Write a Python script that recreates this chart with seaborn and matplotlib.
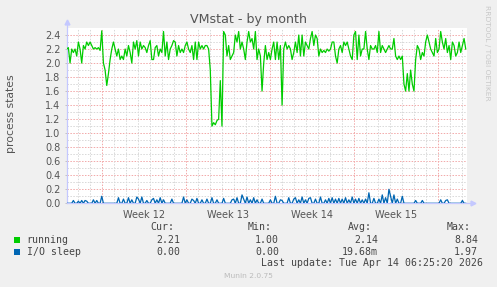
import numpy as np
import pandas as pd
import matplotlib
matplotlib.use("Agg")
import matplotlib.pyplot as plt
from matplotlib.patches import Rectangle
import seaborn as sns

# ---------------- data ----------------
running = [
    2.20, 2.22, 2.00, 2.20, 2.15, 2.20, 2.10, 2.30, 2.20, 2.00, 2.25, 2.20, 2.30, 2.25, 2.30, 2.25,
    2.20, 2.22, 2.20, 2.22, 2.18, 2.46, 2.00, 1.90, 1.68, 1.85, 2.05, 2.20, 2.30, 2.20, 2.10, 2.20,
    2.05, 2.10, 2.05, 2.20, 2.10, 2.25, 2.15, 2.00, 2.30, 2.20, 2.32, 2.10, 2.30, 2.20, 2.25, 2.22,
    2.15, 2.25, 2.32, 2.05, 2.05, 2.22, 2.25, 2.10, 2.20, 2.15, 2.45, 2.10, 2.30, 2.05,
    2.20, 2.25, 2.32, 2.30, 2.10, 2.25, 2.15, 2.20, 2.15, 2.25, 2.30, 2.20, 2.15, 2.25, 2.05, 2.30,
    2.05, 2.30, 2.20, 2.25, 2.20, 2.25, 2.25, 2.20, 1.90, 1.10, 1.15, 1.12, 1.18, 1.20, 1.75, 1.10,
    2.45, 2.40, 2.10, 2.25, 2.05, 2.10, 2.15, 2.40, 2.30, 2.45, 2.20, 2.30, 2.20, 2.05, 2.30, 2.45,
    2.30, 2.35, 2.20, 2.45, 2.05, 2.20, 2.10, 1.60, 2.00, 2.25, 2.05, 2.15,
    2.05, 2.20, 2.30, 2.05, 2.30, 2.05, 2.25, 1.40, 2.20, 2.30, 2.20, 2.25, 2.20, 2.05, 2.15, 2.30,
    2.15, 2.40, 2.10, 2.40, 2.10, 2.30, 2.25, 2.20, 2.35, 2.45, 2.25, 2.40, 2.35, 2.10, 2.20, 2.15,
    2.18, 2.15, 2.20, 2.17, 2.20, 2.30, 2.30, 2.10, 2.00, 2.20, 2.25, 2.15, 2.30, 2.25, 2.30, 2.20,
    2.10, 2.05, 2.40, 2.45, 2.05, 2.40, 2.10, 2.20, 2.20, 2.45, 2.20, 2.05,
    2.25, 2.20, 2.20, 2.25, 2.15, 2.45, 2.15, 2.25, 2.20, 2.15, 2.20, 2.25, 2.20, 2.20, 2.35, 2.10,
    2.05, 2.10, 2.05, 2.10, 1.70, 1.60, 1.85, 1.60, 1.90, 1.70, 1.60, 2.05, 2.25, 2.20, 2.05, 2.15,
    2.10, 2.30, 2.40, 2.30, 2.20, 2.15, 2.10, 2.35, 2.15, 2.20, 2.45, 2.30, 2.20, 2.35, 2.15, 2.25,
    2.05, 2.30, 2.25, 2.10, 2.15, 2.30, 2.15, 2.25, 2.35, 2.20,
]

# I/O sleep: zero except for these samples
io_spike_idx = [4, 7, 9, 11, 12, 16, 18, 21, 31, 34, 37, 39, 42, 43, 45, 48, 51, 52, 54, 56, 58,
                63, 70, 72, 75, 76, 78, 81, 84, 87, 90, 94, 99, 100, 102, 105, 106, 108, 110, 112,
                114, 117, 122, 125, 128, 129, 133, 136, 137, 139, 141, 143, 145, 146, 149, 152,
                155, 157, 159, 161, 163, 165, 167, 169, 171, 173, 175, 177, 179, 181, 184, 187,
                189, 191, 193, 194, 196, 198, 201, 209, 213, 224, 227, 228, 237]
io_spike_val = [0.04, 0.03, 0.04, 0.04, 0.03, 0.05, 0.04, 0.10, 0.08, 0.06, 0.08, 0.05, 0.09, 0.06,
                0.09, 0.04, 0.05, 0.07, 0.05, 0.08, 0.05, 0.06, 0.09, 0.05, 0.06, 0.04, 0.07, 0.05,
                0.06, 0.08, 0.05, 0.07, 0.05, 0.06, 0.08, 0.12, 0.06, 0.09, 0.05, 0.08, 0.05, 0.06,
                0.05, 0.10, 0.05, 0.04, 0.08, 0.06, 0.08, 0.05, 0.09, 0.05, 0.07, 0.08, 0.06, 0.09,
                0.05, 0.07, 0.08, 0.06, 0.07, 0.06, 0.08, 0.05, 0.09, 0.06, 0.07, 0.05, 0.06, 0.15,
                0.07, 0.06, 0.12, 0.08, 0.20, 0.10, 0.12, 0.06, 0.10, 0.04, 0.04, 0.05, 0.04, 0.05,
                0.04]

SPAN_DAYS = 33.25          # time covered by the samples
X_MAX = 33.33              # full x range, days
WEEK_START = 2.97          # first week boundary (days from left edge)
week_labels = ["Week 12", "Week 13", "Week 14", "Week 15"]
y_ticks = [0.0, 0.2, 0.4, 0.6, 0.8, 1.0, 1.2, 1.4, 1.6, 1.8, 2.0, 2.2, 2.4]

legend_names = ["running", "I/O sleep"]
legend_colors = ["#00CC00", "#0066B3"]
cur_vals = ["2.21", "0.00"]
min_vals = ["1.00", "0.00"]
avg_vals = ["2.14", "19.68m"]
max_vals = ["8.84", "1.97"]

n = len(running)
t = np.arange(n) * SPAN_DAYS / (n - 1)
io = np.zeros(n)
io[np.array(io_spike_idx)] = io_spike_val
df = pd.DataFrame({"t": np.concatenate([t, t]),
                   "v": np.concatenate([running, io]),
                   "s": ["running"] * n + ["I/O sleep"] * n})

# ---------------- figure ----------------
W, H = 497, 287
fig = plt.figure(figsize=(W / 100, H / 100), dpi=100, facecolor="#F0F0F0")
ax = fig.add_axes([66.7 / W, 1 - 203.3 / H, 400 / W, 175.3 / H])
ax.set_facecolor("white")

ax.set_xlim(0, X_MAX)
ax.set_ylim(0, 2.5)

grid_gray = "#D8D8D8"
grid_red = "#F2A8A8"
dash = (0, (1.5, 1.5))
# horizontal grid
for k in range(25):
    yv = k * 0.1
    if k % 2 == 0:
        ax.axhline(yv, color=grid_red, lw=0.7, ls=dash, zorder=1)
    else:
        ax.axhline(yv, color=grid_gray, lw=0.7, ls=dash, zorder=1)
# vertical grid: days (gray), weeks (red)
d = WEEK_START - 7
k = 0
day = WEEK_START - 2
while day < X_MAX:
    pass_day = day
    rel = round(pass_day - WEEK_START)
    if rel % 7 == 0:
        ax.axvline(pass_day, color=grid_red, lw=0.7, ls=dash, zorder=1)
    else:
        ax.axvline(pass_day, color=grid_gray, lw=0.7, ls=dash, zorder=1)
    day += 1.0

sns.lineplot(data=df, x="t", y="v", hue="s", hue_order=legend_names,
             palette=legend_colors, linewidth=0.9, legend=False, ax=ax, zorder=3)

for sp in ax.spines.values():
    sp.set_visible(False)

# axis lines with arrows
axis_col = "#C4C8FF"
ax.plot([0, 0], [0, 1.03], transform=ax.transAxes, color=axis_col, lw=0.9, clip_on=False, zorder=2)
ax.plot([0], [1.035], marker="^", ms=3.5, color=axis_col, transform=ax.transAxes, clip_on=False)
ax.plot([0, 1.015], [0, 0], transform=ax.transAxes, color=axis_col, lw=0.9, clip_on=False, zorder=2)
ax.plot([1.017], [0], marker=">", ms=3.5, color=axis_col, transform=ax.transAxes, clip_on=False)

# ticks
week_mid = [WEEK_START + 3.5 + 7 * i for i in range(len(week_labels))]
ax.set_xticks(week_mid)
ax.set_xticklabels(week_labels)
ax.set_yticks(y_ticks)
ax.set_yticklabels([f"{v:.1f}" for v in y_ticks])
ax.tick_params(axis="x", length=0, pad=5, labelsize=7, labelcolor="#555555")
ax.tick_params(axis="y", length=1.5, width=0.6, color="#BBBBBB", pad=3, labelsize=7,
               labelcolor="#555555")
ax.set_xlabel("")
ax.set_ylabel("")

# texts
fig.text(0.5, 1 - 19 / H, "VMstat - by month", ha="center", va="center",
         fontsize=9.1, color="#555555", family="DejaVu Sans")
fig.text(11 / W, 1 - 114 / H, "process states", ha="center", va="center", rotation=90,
         fontsize=7.8, color="#555555", family="DejaVu Sans")
fig.text(487 / W, 1 - 5 / H, "RRDTOOL / TOBI OETIKER", ha="center", va="top", rotation=270,
         fontsize=5.4, color="#C8C8C8", family="DejaVu Sans")

mono = dict(family="DejaVu Sans Mono", fontsize=7.1, color="#444444", va="center")
fy = lambda yp: 1 - yp / H
fig.text(150 / W, fy(227.3), "Cur:", ha="left", **mono)
fig.text(248 / W, fy(227.3), "Min:", ha="left", **mono)
fig.text(348 / W, fy(227.3), "Avg:", ha="left", **mono)
fig.text(447 / W, fy(227.3), "Max:", ha="left", **mono)
rows_y = [240.0, 251.7]
for i, name in enumerate(legend_names):
    yy = rows_y[i]
    fig.patches.append(Rectangle((14 / W, fy(yy + 3)), 6 / W, 6 / H, transform=fig.transFigure,
                                 facecolor=legend_colors[i], edgecolor="none", figure=fig))
    fig.text(26.7 / W, fy(yy), name, ha="left", **mono)
    fig.text(180 / W, fy(yy), cur_vals[i], ha="right", **mono)
    fig.text(279 / W, fy(yy), min_vals[i], ha="right", **mono)
    fig.text(378 / W, fy(yy), avg_vals[i], ha="right", **mono)
    fig.text(478 / W, fy(yy), max_vals[i], ha="right", **mono)
fig.text(483 / W, fy(263.3), "Last update: Tue Apr 14 06:25:20 2026", ha="right", **mono)
fig.text(0.5, fy(276), "Munin 2.0.75", ha="center", va="center", fontsize=5.4,
         color="#BBBBBB", family="DejaVu Sans")

fig.savefig("out.png", dpi=100, facecolor=fig.get_facecolor())
